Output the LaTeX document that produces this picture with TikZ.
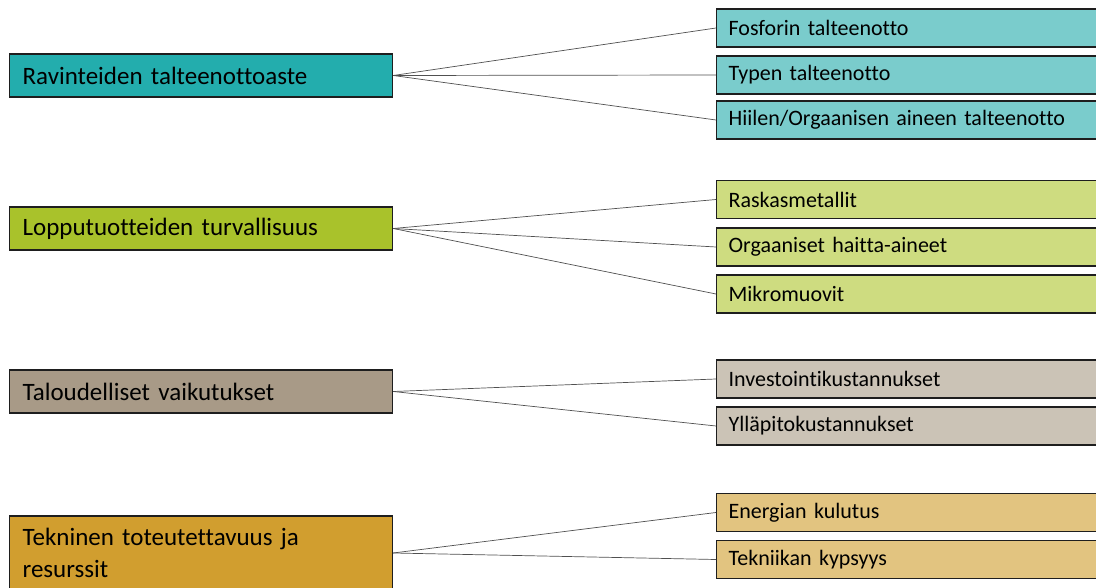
\documentclass[tikz,border=0pt]{standalone}
\usepackage{fontspec}
\setmainfont[Ligatures=NoCommon]{Carlito}
\definecolor{c1}{HTML}{23ADAD}
\definecolor{c1l}{HTML}{7ACCCC}
\definecolor{c2}{HTML}{A9C22B}
\definecolor{c2l}{HTML}{CEDC80}
\definecolor{c3}{HTML}{A89A87}
\definecolor{c3l}{HTML}{CBC3B6}
\definecolor{c4}{HTML}{D19E2F}
\definecolor{c4l}{HTML}{E2C480}
\definecolor{edge}{HTML}{1E1E1E}
\definecolor{conn}{HTML}{505050}
\begin{document}
\begin{tikzpicture}[x=1pt,y=-1pt,
  mainbox/.style={draw=edge, line width=1.2pt, anchor=west, minimum width=383pt, minimum height=43pt,
    text width=357pt, inner xsep=13pt, inner ysep=0pt, align=left, font=\fontsize{25}{32}\selectfont},
  subbox/.style={draw=edge, line width=1.2pt, anchor=west, minimum width=390pt, minimum height=38pt,
    text width=366pt, inner xsep=12pt, inner ysep=0pt, align=left, font=\fontsize{22}{26}\selectfont},
  link/.style={draw=conn, line width=0.7pt}]
\useasboundingbox (0,0) rectangle (1096,588);
\clip (0,0) rectangle (1096,588);
\fill[white] (0,0) rectangle (1096,588);

\node[mainbox, fill=c1] (L1) at (9,75.5) {Ravinteiden talteenottoaste};
\node[mainbox, fill=c2] (L2) at (9,228.5) {Lopputuotteiden turvallisuus};
\node[mainbox, fill=c3] (L3) at (9,391.5) {Taloudelliset vaikutukset};
\node[mainbox, fill=c4, minimum height=74pt] (L4) at (9,553) {Tekninen toteutettavuus ja\\resurssit};

\node[subbox, fill=c1l] (R1) at (716,28) {Fosforin talteenotto};
\node[subbox, fill=c1l] (R2) at (716,75) {Typen talteenotto};
\node[subbox, fill=c1l] (R3) at (716,120) {Hiilen/Orgaanisen aineen talteenotto};
\node[subbox, fill=c2l] (R4) at (716,199.5) {Raskasmetallit};
\node[subbox, fill=c2l] (R5) at (716,247) {Orgaaniset haitta-aineet};
\node[subbox, fill=c2l] (R6) at (716,294) {Mikromuovit};
\node[subbox, fill=c3l] (R7) at (716,379) {Investointikustannukset};
\node[subbox, fill=c3l] (R8) at (716,426) {Ylläpitokustannukset};
\node[subbox, fill=c4l] (R9) at (716,512.5) {Energian kulutus};
\node[subbox, fill=c4l] (R10) at (716,559.5) {Tekniikan kypsyys};

\foreach \r in {R1,R2,R3} \draw[link] (L1.east) -- (\r.west);
\foreach \r in {R4,R5,R6} \draw[link] (L2.east) -- (\r.west);
\foreach \r in {R7,R8} \draw[link] (L3.east) -- (\r.west);
\foreach \r in {R9,R10} \draw[link] (L4.east) -- (\r.west);
\end{tikzpicture}
\end{document}
